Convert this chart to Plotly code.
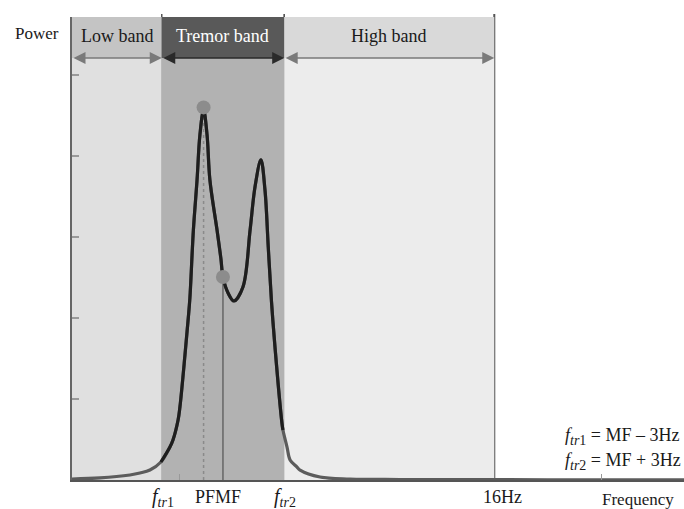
import plotly.graph_objects as go

# ---- data (schematic spectrum) ----
freq = [0.00, 1.37, 2.84, 3.33, 3.82, 4.36, 4.80, 4.95, 5.20, 5.29, 5.54, 5.70, 5.78,
        5.95, 6.13, 6.27, 6.45, 6.62, 6.76, 7.11, 7.30, 7.40, 7.65, 7.94, 8.38, 8.73,
        8.97, 9.26, 9.46, 9.62, 9.78, 9.95, 10.29, 10.34, 10.54, 10.69, 11.03, 11.18,
        12.16, 13.63, 16.08, 20.0, 25.0, 30.0]
power = [0.012, 0.025, 0.062, 0.086, 0.123, 0.222, 0.407, 0.494, 0.741, 0.901, 1.55,
         2.0, 2.25, 3.086, 3.704, 4.26, 4.57, 4.26, 3.704, 3.086, 2.73, 2.506, 2.309,
         2.210, 2.383, 3.086, 3.617, 3.951, 3.580, 2.877, 2.2, 1.642, 0.704, 0.617,
         0.407, 0.247, 0.160, 0.123, 0.037, 0.012, 0.006, 0.004, 0.003, 0.002]

MF = 7.4
PF = 6.45
ftr1 = MF - 3
ftr2 = MF + 3
high_end = 20.7
pf_power = 4.60
mf_power = 2.506

band_names = ["Low band", "Tremor band", "High band"]
band_edges = [0.0, ftr1, ftr2, high_end]
SUB = "<sub><span style='font-size:14px'><i>tr</i>{}</span></sub>"
ftr1_txt = "<i>f</i>" + SUB.format(1)
ftr2_txt = "<i>f</i>" + SUB.format(2)
x_labels = [ftr1_txt, "PF", "MF", ftr2_txt, "16Hz"]
y_ticks = [1, 2, 3, 4, 5]
x_minor_ticks = [5.25, 25.95]

X_MAX = 30.0
Y_MAX = 5.716
HEADER_Y = 5.21

FONT = "Liberation Serif"
TXT = "#1a1a1a"

body_colors = ["#e0e0e0", "#b2b2b2", "#ececec"]
head_colors = ["#c4c4c4", "#595959", "#d9d9d9"]
text_colors = [TXT, "#ffffff", TXT]
arrow_colors = ["#7a7a7a", "#2a2a2a", "#7a7a7a"]

fig = go.Figure()

shapes = []
annotations = []
for i, name in enumerate(band_names):
    x0, x1 = band_edges[i], band_edges[i + 1]
    shapes.append(dict(type="rect", xref="x", yref="y", x0=x0, x1=x1, y0=0, y1=HEADER_Y,
                       fillcolor=body_colors[i], line=dict(width=0), layer="below"))
    shapes.append(dict(type="rect", xref="x", yref="y", x0=x0, x1=x1, y0=HEADER_Y, y1=Y_MAX,
                       fillcolor=head_colors[i], line=dict(width=0), layer="below"))
    annotations.append(dict(x=(x0 + x1) / 2, y=(HEADER_Y + Y_MAX) / 2 + 0.02, xref="x", yref="y",
                            text=name, showarrow=False, xanchor="center", yanchor="middle",
                            font=dict(family=FONT, size=18, color=text_colors[i])))
    annotations.append(dict(x=x1, y=HEADER_Y, ax=x0, ay=HEADER_Y, xref="x", yref="y",
                            axref="x", ayref="y", text="", showarrow=True,
                            arrowside="end+start", arrowhead=2, arrowsize=1.6,
                            arrowwidth=1.5, arrowcolor=arrow_colors[i]))

# vertical boundary lines
for xv, col, w in [(ftr1, "#555555", 1.5), (ftr2, "#444444", 1.5), (high_end, "#555555", 2)]:
    shapes.append(dict(type="line", xref="x", yref="paper", x0=xv, x1=xv, y0=0, y1=1.0065,
                       line=dict(color=col, width=w), layer="below"))

# PF dotted and MF solid lines
shapes.append(dict(type="line", xref="x", yref="y", x0=PF, x1=PF, y0=0, y1=pf_power,
                   line=dict(color="#8a8a8a", width=1.5, dash="dot"), layer="below"))
shapes.append(dict(type="line", xref="x", yref="y", x0=MF, x1=MF, y0=0, y1=mf_power,
                   line=dict(color="#666666", width=1.5), layer="below"))

# full curve (gray), tremor part (dark)
fig.add_trace(go.Scatter(x=freq, y=power, mode="lines",
                         line=dict(color="#5c5c5c", width=3.2, shape="spline", smoothing=1.0),
                         hoverinfo="skip", showlegend=False))
tf = [f for f in freq if ftr1 - 0.1 <= f <= ftr2 + 0.1]
tp = [p for f, p in zip(freq, power) if ftr1 - 0.1 <= f <= ftr2 + 0.1]
fig.add_trace(go.Scatter(x=tf, y=tp, mode="lines",
                         line=dict(color="#1e1e1e", width=3.2, shape="spline", smoothing=1.0),
                         hoverinfo="skip", showlegend=False))

# PF / MF circles
fig.add_trace(go.Scatter(x=[PF, MF], y=[pf_power, mf_power], mode="markers",
                         marker=dict(size=14, color="#8c8c8c", line=dict(width=0)),
                         hoverinfo="skip", showlegend=False))

# bottom labels (paper y, below the axis)
LY = -0.037
mid = (PF + MF) / 2 + 0.02
annotations += [
    dict(x=ftr1 + 0.08, y=LY, xref="x", yref="paper", text=x_labels[0], showarrow=False,
         xanchor="center", yanchor="middle", font=dict(family=FONT, size=20, color=TXT)),
    dict(x=mid, y=LY, xref="x", yref="paper", text=x_labels[1], showarrow=False,
         xanchor="right", yanchor="middle", xshift=3,
         font=dict(family=FONT, size=18, color=TXT)),
    dict(x=mid, y=LY, xref="x", yref="paper", text=x_labels[2], showarrow=False,
         xanchor="left", yanchor="middle", xshift=-1,
         font=dict(family=FONT, size=18, color=TXT)),
    dict(x=ftr2 + 0.05, y=LY, xref="x", yref="paper", text=x_labels[3], showarrow=False,
         xanchor="center", yanchor="middle", font=dict(family=FONT, size=20, color=TXT)),
    dict(x=high_end + 0.42, y=LY, xref="x", yref="paper", text=x_labels[4], showarrow=False,
         xanchor="center", yanchor="middle", font=dict(family=FONT, size=18, color=TXT)),
    dict(x=1.0, xref="paper", xanchor="right", y=-0.043, yref="paper", yanchor="middle",
         text="Frequency", showarrow=False, font=dict(family=FONT, size=17, color=TXT), xshift=-8),
    dict(x=-0.057, xref="paper", xanchor="center", y=0.9654, yref="paper", yanchor="middle",
         text="Power", showarrow=False, font=dict(family=FONT, size=17, color=TXT)),
    dict(x=1.0, xref="paper", xanchor="right", y=0.093, yref="paper", yanchor="middle",
         text=ftr1_txt + " = MF – 3Hz", showarrow=False,
         font=dict(family=FONT, size=18, color=TXT), xshift=-2),
    dict(x=1.0, xref="paper", xanchor="right", y=0.039, yref="paper", yanchor="middle",
         text=ftr2_txt + " = MF + 3Hz", showarrow=False,
         font=dict(family=FONT, size=18, color=TXT), xshift=-1),
]

fig.update_layout(
    width=684, height=509,
    margin=dict(l=72, r=0, t=17, b=29),
    paper_bgcolor="white", plot_bgcolor="white",
    shapes=shapes, annotations=annotations,
    showlegend=False,
    xaxis=dict(range=[0, X_MAX], showgrid=False, zeroline=False, showline=True,
               linecolor="#555555", linewidth=2, ticks="inside", ticklen=6, tickwidth=1,
               tickcolor="#999999", tickvals=x_minor_ticks, showticklabels=False, fixedrange=True),
    yaxis=dict(range=[0, Y_MAX], showgrid=False, zeroline=False, showline=True,
               linecolor="#666666", linewidth=2, ticks="inside", ticklen=7, tickwidth=1.5,
               tickcolor="#9a9a9a", tickvals=y_ticks, showticklabels=False, fixedrange=True),
)

# remove the default page margin so the figure fills the 684x509 window exactly
fig.write_html("out.html",
               config={"displayModeBar": False},
               post_script="document.body.style.margin='0';"
                           "document.body.style.padding='0';"
                           "document.documentElement.style.overflow='hidden';"
                           "document.body.style.overflow='hidden';")
